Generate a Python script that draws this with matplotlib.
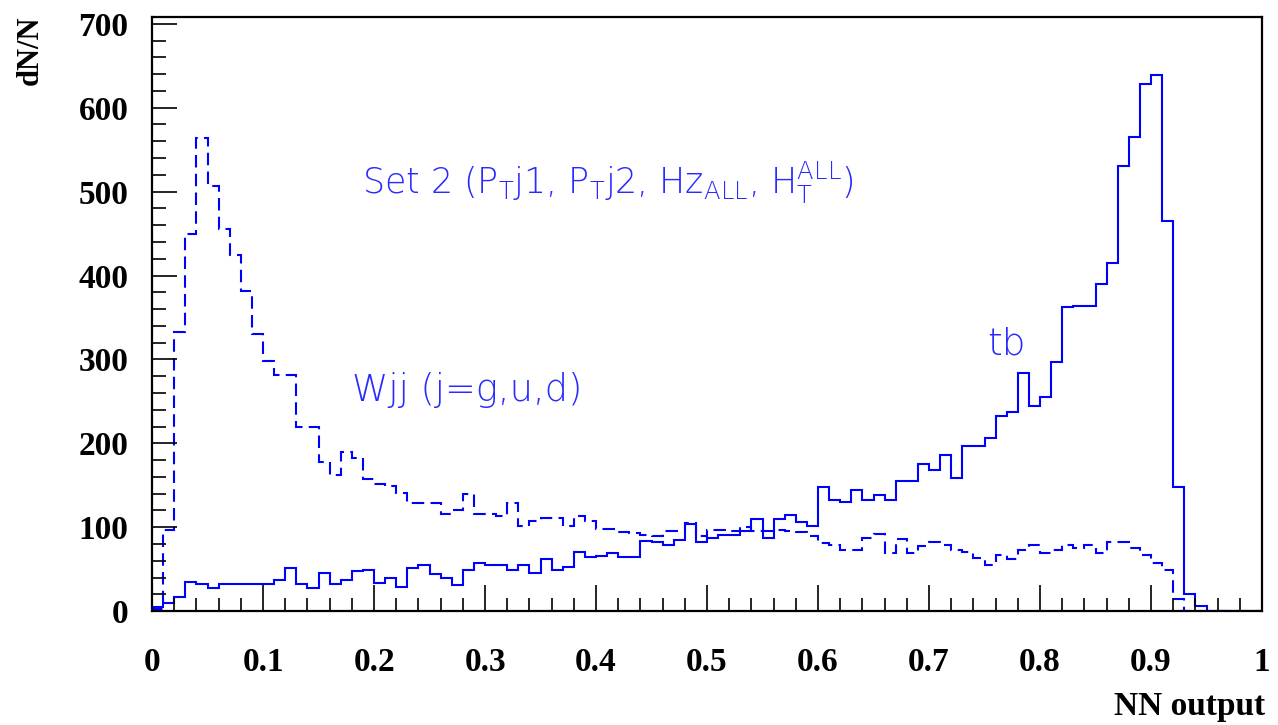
import numpy as np
import matplotlib
matplotlib.use("Agg")
import matplotlib.pyplot as plt
from matplotlib.ticker import MultipleLocator, FixedLocator

# NN output histograms, 100 bins on [0, 1]
bin_edges = np.linspace(0.0, 1.0, 101)

tb_counts = [
    5, 10, 17, 35, 32, 28, 32, 32, 32, 32,
    32, 37, 51, 32, 28, 46, 32, 37, 48, 49,
    33, 40, 29, 51, 55, 44, 40, 31, 49, 58,
    55, 55, 49, 55, 46, 62, 49, 53, 71, 64,
    66, 69, 64, 64, 84, 82, 79, 85, 104, 82,
    87, 91, 91, 96, 110, 87, 110, 115, 106, 102,
    148, 132, 130, 144, 132, 138, 132, 155, 155, 175,
    168, 186, 159, 197, 197, 206, 233, 237, 284, 244,
    255, 297, 362, 364, 364, 390, 415, 530, 565, 628,
    639, 465, 148, 20, 6, 0, 0, 0, 0, 0,
]

wjj_counts = [
    3, 97, 333, 450, 564, 507, 456, 424, 381, 330,
    298, 282, 281, 219, 219, 178, 162, 190, 182, 158,
    151, 149, 141, 129, 129, 129, 116, 120, 140, 116,
    116, 113, 129, 102, 107, 111, 111, 101, 113, 107,
    98, 98, 94, 93, 91, 89, 95, 96, 105, 90,
    97, 97, 96, 100, 96, 95, 97, 96, 94, 90,
    81, 79, 73, 73, 87, 92, 69, 86, 69, 78,
    82, 79, 73, 71, 63, 55, 67, 62, 73, 79,
    69, 73, 79, 75, 79, 69, 83, 83, 75, 67,
    57, 49, 15, 0, 0, 0, 0, 0, 0, 0,
]

x_ticks = [0, 0.1, 0.2, 0.3, 0.4, 0.5, 0.6, 0.7, 0.8, 0.9, 1]
x_tick_labels = ["0", "0.1", "0.2", "0.3", "0.4", "0.5", "0.6", "0.7", "0.8", "0.9", "1"]
y_ticks = [0, 100, 200, 300, 400, 500, 600, 700]

serif = ["Liberation Serif", "DejaVu Serif"]
sans = ["DejaVu Sans"]
plt.rcParams["mathtext.default"] = "regular"
plt.rcParams["font.family"] = sans

fig = plt.figure(figsize=(12.78, 7.25), dpi=100)
ax = fig.add_axes([0.119, 0.157, 0.8685, 0.8195])

line_blue = "#0000ff"
ax.stairs(tb_counts, bin_edges, color=line_blue, linewidth=1.5)
ax.stairs(wjj_counts, bin_edges, color=line_blue, linewidth=1.5,
          linestyle=(0, (6, 3)))

ax.set_xlim(0, 1)
ax.set_ylim(0, 708)

for side in ax.spines.values():
    side.set_linewidth(1.6)
    side.set_color("black")

ax.xaxis.set_major_locator(FixedLocator(x_ticks))
ax.set_xticklabels(x_tick_labels)
ax.xaxis.set_minor_locator(MultipleLocator(0.02))
ax.yaxis.set_major_locator(FixedLocator(y_ticks))
ax.yaxis.set_minor_locator(MultipleLocator(20))

ax.tick_params(axis="both", which="both", direction="in", top=False, right=False,
               width=1.2, color="black")
ax.tick_params(axis="x", which="major", length=19, pad=26)
ax.tick_params(axis="x", which="minor", length=9.5)
ax.tick_params(axis="y", which="major", length=18, pad=17)
ax.tick_params(axis="y", which="minor", length=10)

for lab in ax.get_xticklabels() + ax.get_yticklabels():
    lab.set_fontfamily(serif)
    lab.set_fontweight("bold")
    lab.set_fontsize(24)

fig.text(0.024, 0.978, "dN/N", rotation=90, ha="center", va="top",
         fontfamily=serif, fontweight="bold", fontsize=22)
fig.text(0.990, 0.026, "NN output", ha="right", va="center",
         fontfamily=serif, fontweight="bold", fontsize=24)

text_blue = "#2a2aff"
ax.text(0.189, 510,
        r"Set 2 (P$_{T}$j1, P$_{T}$j2, Hz$_{ALL}$, H$_{T}^{ALL}$)",
        color=text_blue, fontsize=25, va="center", ha="left", fontweight="light")
ax.text(0.18, 264, "Wjj (j=g,u,d)", color=text_blue, fontsize=26.5,
        va="center", ha="left", fontweight="light")
ax.text(0.752, 318, "tb", color=text_blue, fontsize=27, va="center", ha="left",
        fontweight="light")

fig.savefig("out.png", dpi=100)
